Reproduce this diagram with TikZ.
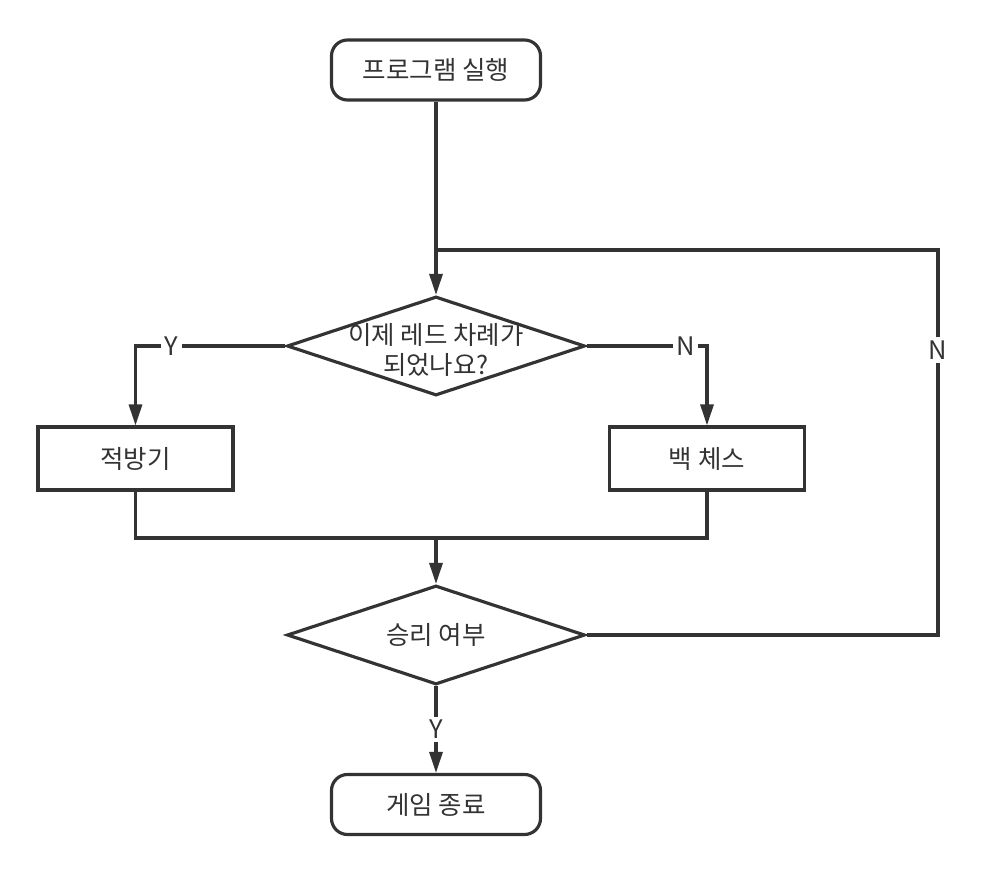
\documentclass[tikz,border=0pt]{standalone}
\usepackage{fontspec}
\setmainfont{Noto Sans CJK KR}
\usetikzlibrary{positioning,arrows.meta,shapes.geometric}
\definecolor{ink}{HTML}{333333}

\begin{document}
\begin{tikzpicture}[
  line width=1.8pt, draw=ink, text=ink,
  every node/.style={font=\fontsize{14.5}{17.5}\selectfont},
  term/.style={draw,rounded corners=0.32cm,minimum width=4.18cm,minimum height=1.2cm},
  blk/.style={draw,minimum width=3.9cm,minimum height=1.26cm},
  dia/.style={draw,diamond,inner sep=0pt,minimum width=5.96cm,minimum height=1.98cm},
  sig/.style={-{Triangle[length=0.42cm,width=0.26cm]}},
  lbl/.style={fill=white,inner sep=2pt},
]
\useasboundingbox (0,0) rectangle (19.74,-17.52);
% start
\node[term] (start) at (8.72,-1.4) {프로그램 실행};
% first question
\node[dia] (dec1) at (8.72,-6.92) {};
\node[align=center] (q1) at (8.72,-7.0) {이제 레드 차례가\\되었나요?};
\coordinate (jn) at (8.72,-5.0);
\draw[sig] (start.south) -- (dec1.north);
% branches
\node[blk] (lft) at (2.71,-9.17) {적방기};
\node[blk] (rgt) at (14.14,-9.17) {백 체스};
\draw[sig] (dec1.west) -| (lft.north) node[lbl,pos=0.38] {Y};
\draw[sig] (dec1.east) -| (rgt.north) node[lbl,pos=0.41] {N};
% merge
\coordinate (mrg) at (8.72,-10.76);
\draw (lft.south) |- (mrg) -| (rgt.south);
\node[dia] (dec2) at (8.72,-12.7) {};
\node (q2) at (dec2) {승리 여부};
\draw[sig] (mrg) -- (dec2.north);
% loop back
\coordinate (loop) at (18.76,-5.0);
\draw (dec2.east) -| (loop) node[lbl,pos=0.87] {N} -- (jn);
% end
\node[term] (stop) at (8.72,-16.09) {게임 종료};
\draw[sig] (dec2.south) -- (stop.north) node[lbl,midway] {Y};
\end{tikzpicture}
\end{document}
